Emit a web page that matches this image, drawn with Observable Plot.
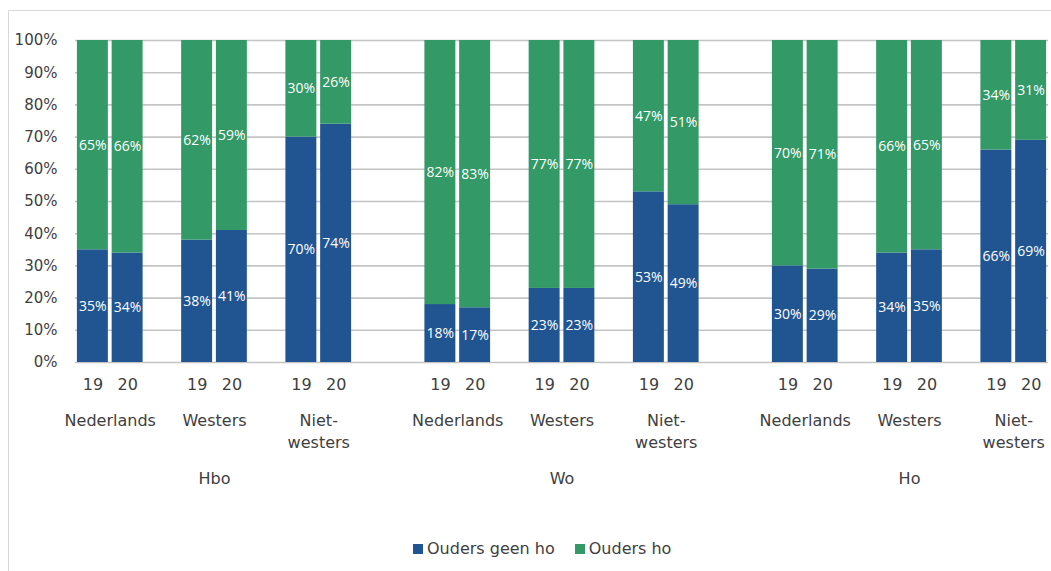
<!DOCTYPE html>
<html>
<head>
<meta charset="utf-8">
<script src="https://cdn.jsdelivr.net/npm/d3@7"></script>
<script src="https://cdn.jsdelivr.net/npm/@observablehq/plot@0.6"></script>
<style>
  html, body { margin: 0; padding: 0; background: #fff; overflow: hidden; }
  body { width: 1051px; height: 571px; position: relative; font-family: "DejaVu Sans", sans-serif; }
  #frame { position: absolute; left: 8px; top: 10px; width: 1100px; height: 620px; border: 1px solid #d9d9d9; box-sizing: border-box; }
  #chart { position: absolute; left: 0; top: 0; }
  #legend { position: absolute; left: 413px; top: 539px; display: flex; align-items: center; font-size: 16px; color: #404040; white-space: nowrap; }
  #legend .sw { width: 10px; height: 10px; display: inline-block; margin-right: 4px; }
  #legend .item { display: flex; align-items: center; margin-right: 20px; }
</style>
</head>
<body>
<div id="frame"></div>
<div id="chart"></div>
<div id="legend"></div>
<script>
// ---- data ----
const groups = ["Hbo", "Wo", "Ho"];
const origins = ["Nederlands", "Westers", "Niet-westers"];
const originLabels = ["Nederlands", "Westers", "Niet-\nwesters"];
const years = ["19", "20"];
const seriesNames = ["Ouders geen ho", "Ouders ho"];
const seriesColors = ["#215591", "#339966"];
// order: group > origin > year
const oudersGeenHo = [35, 34, 38, 41, 70, 74, 18, 17, 23, 23, 53, 49, 30, 29, 34, 35, 66, 69];
const oudersHo     = [65, 66, 62, 59, 30, 26, 82, 83, 77, 77, 47, 51, 70, 71, 66, 65, 34, 31];

// ---- build table ----
const bars = [];
const originRows = [];
const groupRows = [];
let k = 0;
groups.forEach((g, gi) => {
  const slotsInGroup = [];
  origins.forEach((o, oi) => {
    const first = gi * 10 + oi * 3;
    originRows.push({ label: originLabels[oi], x: first + 1 });
    years.forEach((yr, yi) => {
      const slot = first + yi;
      slotsInGroup.push(slot);
      const a = oudersGeenHo[k], b = oudersHo[k];
      bars.push({ slot, year: yr, series: seriesNames[0], y1: 0, y2: a, value: a });
      bars.push({ slot, year: yr, series: seriesNames[1], y1: a, y2: a + b, value: b });
      k++;
    });
  });
  groupRows.push({ label: g, x: (d3.min(slotsInGroup) + d3.max(slotsInGroup) + 1) / 2 });
});
const yearRows = bars.filter(d => d.series === seriesNames[0]);
const nSlots = 28;

const textColor = "#404040";

const chart = Plot.plot({
  width: 1051,
  height: 500,
  marginLeft: 75,
  marginRight: 3,
  marginTop: 40,
  marginBottom: 138,
  style: { fontFamily: "DejaVu Sans, sans-serif", fontSize: "16px", color: textColor, background: "transparent" },
  x: { type: "linear", domain: [0, nSlots], axis: null },
  y: { domain: [0, 100], axis: null },
  color: { domain: seriesNames, range: seriesColors },
  marks: [
    Plot.gridY({ ticks: d3.range(0, 101, 10), stroke: "#c4c4c4", strokeOpacity: 1, strokeWidth: 1.6 }),
    Plot.axisY({ ticks: d3.range(0, 101, 10), tickFormat: d => d + "%", tickSize: 0, tickPadding: 18, fontSize: 15, fill: textColor }),
    Plot.rectY(bars, { x1: "slot", x2: d => d.slot + 1, y1: "y1", y2: "y2", fill: "series", insetLeft: 1.9, insetRight: 1.9 }),
    Plot.text(bars, { x: d => d.slot + 0.5, y: d => (d.y1 + d.y2) / 2, text: d => d.value + "%", fill: "white", fontFamily: "Open Sans, sans-serif", fontSize: 14 }),
    Plot.text(yearRows, { x: d => d.slot + 0.5, frameAnchor: "bottom", dy: 27, text: "year", fill: textColor, fontSize: 16 }),
    Plot.text(originRows, { x: "x", frameAnchor: "bottom", dy: 48, lineAnchor: "top", lineHeight: 1.375, text: "label", fill: textColor, fontSize: 16 }),
    Plot.text(groupRows, { x: "x", frameAnchor: "bottom", dy: 121, text: "label", fill: textColor, fontSize: 16 })
  ]
});
document.getElementById("chart").appendChild(chart);

const legend = document.getElementById("legend");
seriesNames.forEach((s, i) => {
  const item = document.createElement("span");
  item.className = "item";
  const sw = document.createElement("span");
  sw.className = "sw";
  sw.style.background = seriesColors[i];
  item.appendChild(sw);
  item.appendChild(document.createTextNode(s));
  legend.appendChild(item);
});
</script>
</body>
</html>
